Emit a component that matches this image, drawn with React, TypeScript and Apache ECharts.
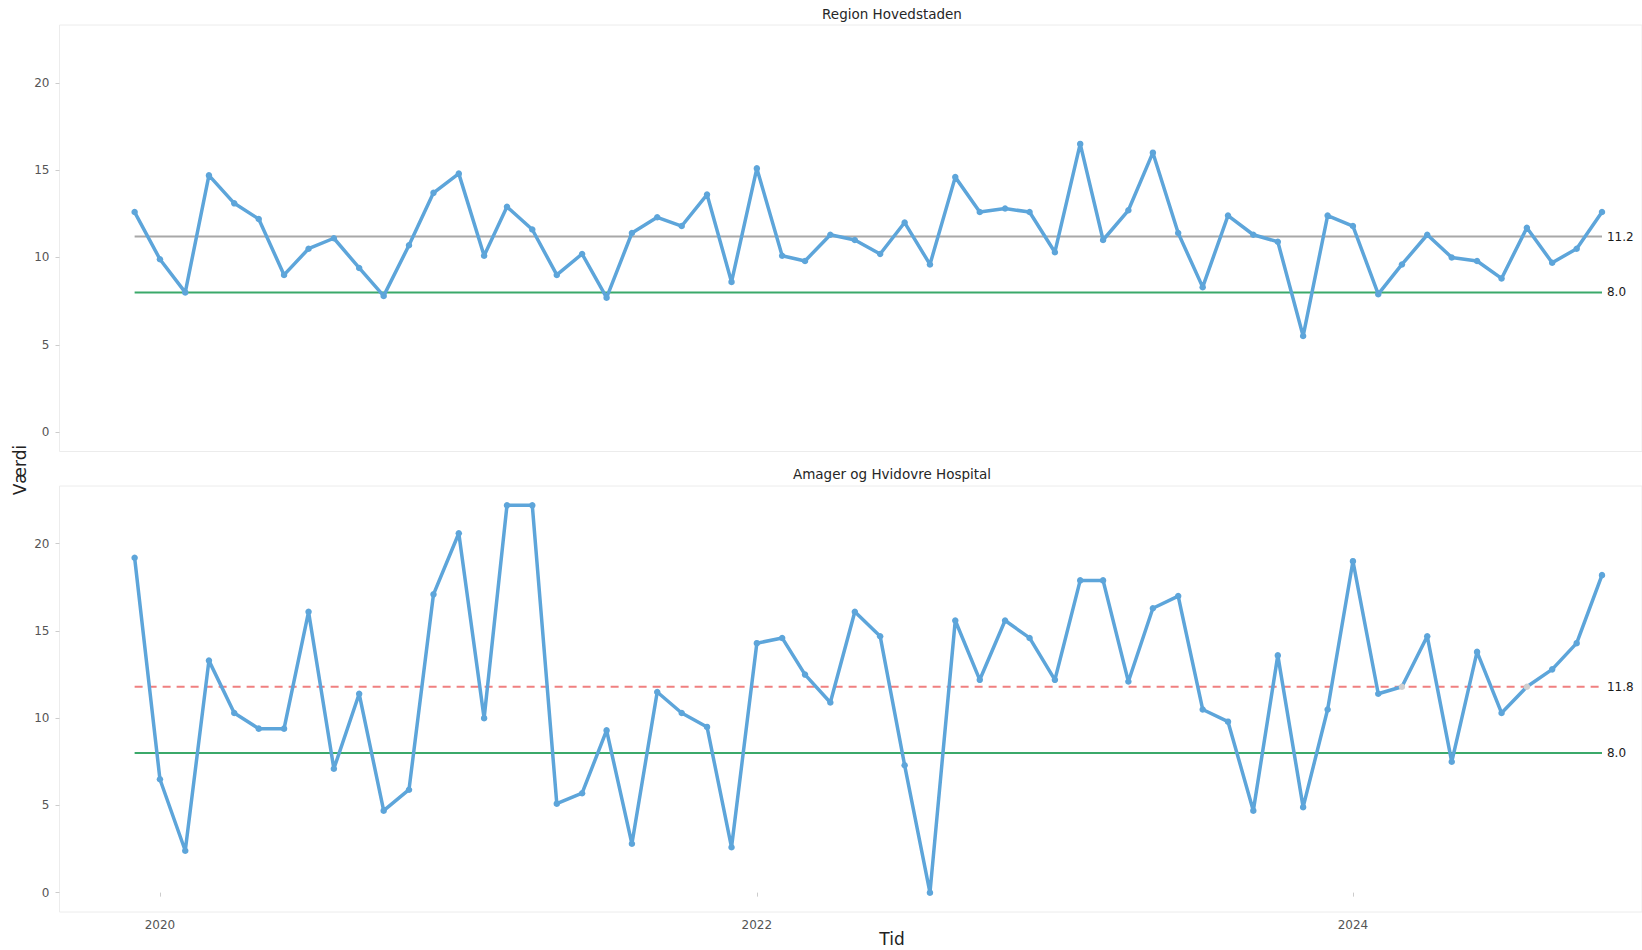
import React, { useEffect, useRef } from "react";
import * as echarts from "echarts";

// ---- Data ----
const months: string[] = [
  "2019-12",
  "2020-01", "2020-02", "2020-03", "2020-04", "2020-05", "2020-06",
  "2020-07", "2020-08", "2020-09", "2020-10", "2020-11", "2020-12",
  "2021-01", "2021-02", "2021-03", "2021-04", "2021-05", "2021-06",
  "2021-07", "2021-08", "2021-09", "2021-10", "2021-11", "2021-12",
  "2022-01", "2022-02", "2022-03", "2022-04", "2022-05", "2022-06",
  "2022-07", "2022-08", "2022-09", "2022-10", "2022-11", "2022-12",
  "2023-01", "2023-02", "2023-03", "2023-04", "2023-05", "2023-06",
  "2023-07", "2023-08", "2023-09", "2023-10", "2023-11", "2023-12",
  "2024-01", "2024-02", "2024-03", "2024-04", "2024-05", "2024-06",
  "2024-07", "2024-08", "2024-09", "2024-10", "2024-11",
];

const regionValues: number[] = [
  12.6,
  9.9, 8.0, 14.7, 13.1, 12.2, 9.0,
  10.5, 11.1, 9.4, 7.8, 10.7, 13.7,
  14.8, 10.1, 12.9, 11.6, 9.0, 10.2,
  7.7, 11.4, 12.3, 11.8, 13.6, 8.6,
  15.1, 10.1, 9.8, 11.3, 11.0, 10.2,
  12.0, 9.6, 14.6, 12.6, 12.8, 12.6,
  10.3, 16.5, 11.0, 12.7, 16.0, 11.4,
  8.3, 12.4, 11.3, 10.9, 5.5, 12.4,
  11.8, 7.9, 9.6, 11.3, 10.0, 9.8,
  8.8, 11.7, 9.7, 10.5, 12.6,
];

const hospitalValues: number[] = [
  19.2,
  6.5, 2.4, 13.3, 10.3, 9.4, 9.4,
  16.1, 7.1, 11.4, 4.7, 5.9, 17.1,
  20.6, 10.0, 22.2, 22.2, 5.1, 5.7,
  9.3, 2.8, 11.5, 10.3, 9.5, 2.6,
  14.3, 14.6, 12.5, 10.9, 16.1, 14.7,
  7.3, 0.0, 15.6, 12.2, 15.6, 14.6,
  12.2, 17.9, 17.9, 12.1, 16.3, 17.0,
  10.5, 9.8, 4.7, 13.6, 4.9, 10.5,
  19.0, 11.4, 11.8, 14.7, 7.5, 13.8,
  10.3, 11.8, 12.8, 14.3, 18.2,
];

const panelTitles: string[] = ["Region Hovedstaden", "Amager og Hvidovre Hospital"];
const centerValues: number[] = [11.2, 11.8];
const targetValue = 8.0;
const yTickValues: number[] = [0, 5, 10, 15, 20];
const xTickDates: string[] = ["2020-01", "2022-01", "2024-01"];
const yAxisTitle = "Værdi";
const xAxisTitle = "Tid";

// ---- Styling ----
const FONT = "'DejaVu Sans', Verdana, sans-serif";
const BLUE = "#5DA5DA";
const GREY_CL = "#a8a8a8";
const RED_CL = "#f08080";
const GREEN = "#3ba96a";
const ON_CL_POINT = "#cfcfcf";

const ts = (m: string) => {
  const [y, mo] = m.split("-").map(Number);
  return Date.UTC(y, mo - 1, 1);
};

// visible part of the x range (the panel continues past the right edge)
const X_MIN = Date.UTC(2019, 7, 31);
const X_MAX = Date.UTC(2024, 11, 20);
const Y_MIN = -1.11;
const Y_MAX = 23.31;

const GRID_LEFT = 59.5;
const GRIDS = [
  { top: 25, height: 426.5 },
  { top: 486, height: 426 },
];

export default function App() {
  const ref = useRef<HTMLDivElement>(null);

  useEffect(() => {
    if (!ref.current) return;
    const chart = echarts.init(ref.current, undefined, { renderer: "svg" });

    const seriesData = [regionValues, hospitalValues];
    const firstTs = ts(months[0]);
    const lastTs = ts(months[months.length - 1]);
    const xTicks = xTickDates.map(ts);

    const series: any[] = [];
    seriesData.forEach((vals, gi) => {
      const cl = centerValues[gi];
      // target line
      series.push({
        type: "line",
        xAxisIndex: gi,
        yAxisIndex: gi,
        data: [
          [firstTs, targetValue],
          [lastTs, targetValue],
        ],
        symbol: "none",
        silent: true,
        z: 2,
        lineStyle: { color: GREEN, width: 2 },
        endLabel: {
          show: true,
          formatter: () => targetValue.toFixed(1),
          color: "#1a1a1a",
          fontSize: 12,
          fontFamily: FONT,
          distance: 5,
        },
      });
      // centre line
      series.push({
        type: "line",
        xAxisIndex: gi,
        yAxisIndex: gi,
        data: [
          [firstTs, cl],
          [lastTs, cl],
        ],
        symbol: "none",
        silent: true,
        z: 2,
        lineStyle:
          gi === 0
            ? { color: GREY_CL, width: 2 }
            : { color: RED_CL, width: 2, type: [8, 6] },
        endLabel: {
          show: true,
          formatter: () => cl.toFixed(1),
          color: "#1a1a1a",
          fontSize: 12,
          fontFamily: FONT,
          distance: 5,
        },
      });
      // data
      series.push({
        type: "line",
        xAxisIndex: gi,
        yAxisIndex: gi,
        data: months.map((m, i) => {
          const item: any = { value: [ts(m), vals[i]] };
          if (gi === 1 && vals[i] === cl) item.itemStyle = { color: ON_CL_POINT };
          return item;
        }),
        symbol: "circle",
        symbolSize: 6.5,
        showSymbol: true,
        z: 3,
        lineStyle: { color: BLUE, width: 3.5 },
        itemStyle: { color: BLUE },
      });
    });

    const option: any = {
      animation: false,
      backgroundColor: "#ffffff",
      textStyle: { fontFamily: FONT },
      grid: GRIDS.map((g) => ({
        left: GRID_LEFT,
        right: 0,
        top: g.top,
        height: g.height,
        show: true,
        borderColor: "#ececec",
        borderWidth: 1,
        backgroundColor: "transparent",
      })),
      xAxis: GRIDS.map((_, gi) => ({
        type: "value",
        gridIndex: gi,
        min: X_MIN,
        max: X_MAX,
        axisLine: { show: false },
        splitLine: { show: false },
        axisTick: {
          show: gi === 1,
          customValues: xTicks,
          length: 4,
          lineStyle: { color: "#cccccc", width: 1 },
        },
        axisLabel: {
          show: gi === 1,
          customValues: xTicks,
          formatter: (v: number) => String(new Date(v).getUTCFullYear()),
          color: "#555555",
          fontSize: 12,
          fontFamily: FONT,
          margin: 7,
        },
      })),
      yAxis: GRIDS.map((_, gi) => ({
        type: "value",
        gridIndex: gi,
        min: Y_MIN,
        max: Y_MAX,
        axisLine: { show: false },
        splitLine: { show: false },
        axisTick: {
          show: true,
          customValues: yTickValues,
          length: 4,
          lineStyle: { color: "#cccccc", width: 1 },
        },
        axisLabel: {
          customValues: yTickValues,
          color: "#555555",
          fontSize: 12,
          fontFamily: FONT,
          margin: 10,
        },
      })),
      graphic: [
        {
          type: "text",
          x: 892,
          y: 13.5,
          style: {
            text: panelTitles[0],
            fill: "#262626",
            font: `13.5px ${FONT}`,
            align: "center",
            verticalAlign: "middle",
          },
        },
        {
          type: "text",
          x: 892,
          y: 474,
          style: {
            text: panelTitles[1],
            fill: "#262626",
            font: `13.5px ${FONT}`,
            align: "center",
            verticalAlign: "middle",
          },
        },
        {
          type: "text",
          x: 892,
          y: 939,
          style: {
            text: xAxisTitle,
            fill: "#222222",
            font: `17px ${FONT}`,
            align: "center",
            verticalAlign: "middle",
          },
        },
        {
          type: "text",
          x: 20,
          y: 470,
          rotation: Math.PI / 2,
          style: {
            text: yAxisTitle,
            fill: "#222222",
            font: `17px ${FONT}`,
            align: "center",
            verticalAlign: "middle",
          },
        },
      ],
      series,
    };

    chart.setOption(option);
    return () => chart.dispose();
  }, []);

  return (
    <div
      ref={ref}
      style={{ position: "absolute", left: 0, top: 0, width: 1642, height: 950 }}
    />
  );
}
